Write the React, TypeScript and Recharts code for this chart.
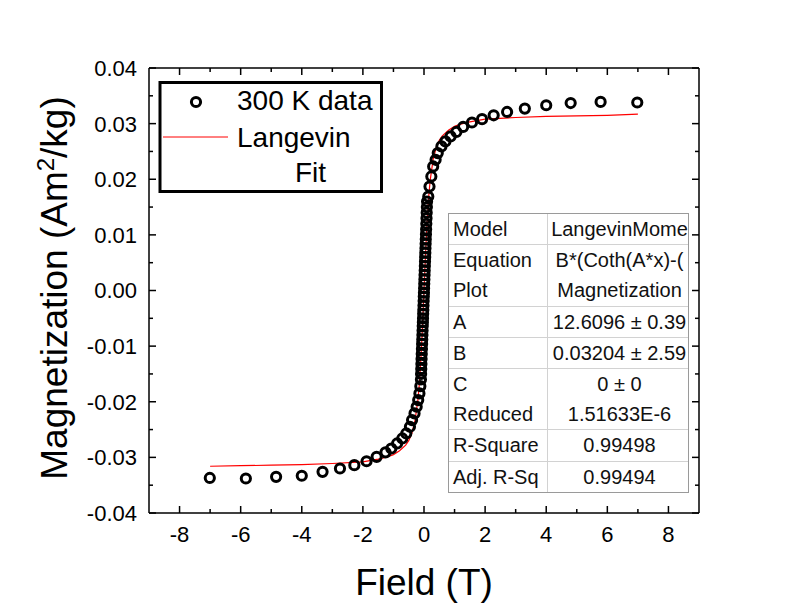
import { ComposedChart, Scatter, Line, XAxis, YAxis, Label } from 'recharts';

const FIELD_T = [
  -7.01, -5.83, -4.84, -4.0, -3.32, -2.75, -2.28, -1.88, -1.55, -1.26, -1.07, -0.88, -0.71,
  -0.58, -0.46, -0.39, -0.31, -0.24, -0.19, -0.15, -0.12,
  -0.1, -0.095, -0.09, -0.085, -0.08, -0.074, -0.068, -0.062, -0.057, -0.052, -0.047, -0.042,
  -0.037, -0.032, -0.027, -0.022, -0.017, -0.012, -0.007, -0.002, 0.003, 0.008, 0.013, 0.018,
  0.023, 0.028, 0.033, 0.038, 0.043, 0.048, 0.053, 0.058, 0.064, 0.07, 0.076, 0.082, 0.088,
  0.094, 0.1,
  0.14, 0.18, 0.24, 0.3, 0.38, 0.45, 0.57, 0.7, 0.87, 1.06, 1.28, 1.57, 1.9, 2.28, 2.72, 3.3,
  4.0, 4.8, 5.78, 6.98,
];
const MAG = [
  -0.0337, -0.0338, -0.0335, -0.0333, -0.0326, -0.032, -0.0314, -0.0307, -0.0299, -0.0291,
  -0.0284, -0.0275, -0.0266, -0.0257, -0.0245, -0.0233, -0.0221, -0.0209, -0.0197, -0.0185,
  -0.0172,
  -0.016, -0.015, -0.0141, -0.0132, -0.0123, -0.0114, -0.0105, -0.0096, -0.0088, -0.008,
  -0.0072, -0.0064, -0.0057, -0.005, -0.0042, -0.0035, -0.0027, -0.0019, -0.0011, -0.0004,
  0.0004, 0.0012, 0.002, 0.0028, 0.0036, 0.0044, 0.0052, 0.006, 0.0068, 0.0076, 0.0084,
  0.0092, 0.0101, 0.011, 0.012, 0.013, 0.014, 0.015, 0.016,
  0.0169, 0.0187, 0.0205, 0.0223, 0.0235, 0.0247, 0.0259, 0.0268, 0.0277, 0.0285, 0.0294,
  0.0302, 0.0308, 0.0315, 0.0321, 0.0327, 0.0333, 0.0337, 0.0339, 0.0338,
];

// Langevin fit curve
const FIT_FIELD = [
  -7, -6, -5, -4, -3, -2, -1.5, -1.2, -1, -0.8, -0.6, -0.5, -0.4, -0.3, -0.2, -0.15, -0.1, -0.05,
  0, 0.05, 0.1, 0.15, 0.2, 0.3, 0.4, 0.5, 0.6, 0.8, 1, 1.2, 1.5, 2, 3, 4, 5, 6, 7,
];
const FIT_MAG = [
  -0.0316, -0.0315, -0.0314, -0.0313, -0.0311, -0.0308, -0.0303, -0.0299, -0.0295, -0.0288,
  -0.0278, -0.027, -0.0257, -0.0236, -0.0197, -0.0166, -0.0122, -0.0065,
  0, 0.0065, 0.0122, 0.0166, 0.0197, 0.0236, 0.0257, 0.027, 0.0278, 0.0288, 0.0295, 0.0299,
  0.0303, 0.0308, 0.0311, 0.0313, 0.0314, 0.0315, 0.0317,
];

const X_TICKS = [-8, -7, -6, -5, -4, -3, -2, -1, 0, 1, 2, 3, 4, 5, 6, 7, 8];
const Y_TICKS = [
  -0.04, -0.035, -0.03, -0.025, -0.02, -0.015, -0.01, -0.005, 0, 0.005, 0.01, 0.015, 0.02,
  0.025, 0.03, 0.035, 0.04,
];

const FIT_ROWS = [
  [['Model', 'LangevinMome']],
  [['Equation', 'B*(Coth(A*x)-('], ['Plot', 'Magnetization']],
  [['A', '12.6096 ± 0.39']],
  [['B', '0.03204 ± 2.59']],
  [['C', '0 ± 0'], ['Reduced', '1.51633E-6']],
  [['R-Square', '0.99498']],
  [['Adj. R-Sq', '0.99494']],
];

const points = FIELD_T.map((x, i) => ({ x, y: MAG[i] }));
const fit = FIT_FIELD.map((x, i) => ({ x, y: FIT_MAG[i] }));

const FONT = '"Liberation Sans", Arial, sans-serif';

const isMajorX = (v: number) => Math.abs(v) % 2 === 0;
const isMajorY = (v: number) => Math.abs(Math.round(v * 200)) % 2 === 0;

const BottomTick = ({ x, y, payload }: any) => {
  const major = isMajorX(payload.value);
  return (
    <g>
      <line x1={x} x2={x} y1={y} y2={y - (major ? 7 : 4)} stroke="#000" strokeWidth={1.5} />
      {major && (
        <text x={x} y={y + 29} textAnchor="middle" fontSize={22} fontFamily={FONT} fill="#000">
          {payload.value}
        </text>
      )}
    </g>
  );
};

const TopTick = ({ x, y, payload }: any) => {
  const major = isMajorX(payload.value);
  return <line x1={x} x2={x} y1={y} y2={y + (major ? 7 : 4)} stroke="#000" strokeWidth={1.5} />;
};

const LeftTick = ({ x, y, payload }: any) => {
  const major = isMajorY(payload.value);
  return (
    <g>
      <line x1={x} x2={x + (major ? 7 : 4)} y1={y} y2={y} stroke="#000" strokeWidth={1.5} />
      {major && (
        <text x={x - 12} y={y} dy="0.36em" textAnchor="end" fontSize={22} fontFamily={FONT} fill="#000">
          {payload.value.toFixed(2)}
        </text>
      )}
    </g>
  );
};

const RightTick = ({ x, y, payload }: any) => {
  const major = isMajorY(payload.value);
  return <line x1={x} x2={x - (major ? 7 : 4)} y1={y} y2={y} stroke="#000" strokeWidth={1.5} />;
};

const YTitle = () => (
  <text
    x={67}
    y={288}
    transform="rotate(-90, 67, 288)"
    textAnchor="middle"
    fontSize={37}
    fontFamily={FONT}
    fill="#000"
  >
    Magnetization (Am
    <tspan dy={-13} fontSize={24}>2</tspan>
    <tspan dy={13}>/kg)</tspan>
  </text>
);

const Ring = (p: any) => (
  <circle cx={p.cx} cy={p.cy} r={4.6} fill="none" stroke="#000" strokeWidth={3} />
);

function FitTable() {
  return (
    <div
      style={{
        position: 'absolute',
        left: 448,
        top: 213,
        width: 241,
        height: 280,
        boxSizing: 'border-box',
        border: '1px solid #9a9a9a',
        background: '#fff',
        fontFamily: FONT,
        fontSize: 20,
        color: '#111',
      }}
    >
      {FIT_ROWS.map((group, gi) => (
        <div
          key={gi}
          style={{
            display: 'flex',
            borderBottom: gi < FIT_ROWS.length - 1 ? '1px solid #d2d2d2' : 'none',
          }}
        >
          <div style={{ width: 98, borderRight: '1px solid #d2d2d2', overflow: 'hidden' }}>
            {group.map((r, ri) => (
              <div key={ri} style={{ height: 30.2, lineHeight: '30.2px', paddingLeft: 4, whiteSpace: 'nowrap' }}>
                {r[0]}
              </div>
            ))}
          </div>
          <div style={{ flex: 1, overflow: 'hidden' }}>
            {group.map((r, ri) => (
              <div
                key={ri}
                style={{
                  height: 30.2,
                  lineHeight: '30.2px',
                  textAlign: 'center',
                  whiteSpace: 'nowrap',
                  overflow: 'hidden',
                  paddingLeft: 3,
                }}
              >
                {r[1]}
              </div>
            ))}
          </div>
        </div>
      ))}
    </div>
  );
}

function LegendBox() {
  return (
    <svg
      width={799}
      height={613}
      style={{ position: 'absolute', left: 0, top: 0, pointerEvents: 'none' }}
    >
      <rect x={160} y={82.5} width={221.5} height={109} fill="#fff" stroke="#000" strokeWidth={3} />
      <circle cx={196} cy={102} r={4.6} fill="none" stroke="#000" strokeWidth={3} />
      <text x={237} y={110} fontSize={28} fontFamily={FONT} fill="#000">300 K data</text>
      <line x1={163} x2={228} y1={137} y2={137} stroke="#ff0000" strokeWidth={1} />
      <text x={237} y={147} fontSize={28} fontFamily={FONT} fill="#000">Langevin</text>
      <text x={295} y={182} fontSize={28} fontFamily={FONT} fill="#000">Fit</text>
    </svg>
  );
}

export default function App() {
  return (
    <div style={{ position: 'absolute', left: 0, top: 0, width: 799, height: 613, background: '#fff' }}>
      <ComposedChart width={799} height={613} margin={{ top: 67, right: 99, bottom: 0, left: 0 }}>
        <XAxis
          type="number"
          dataKey="x"
          domain={[-9, 9]}
          allowDataOverflow
          ticks={X_TICKS}
          interval={0}
          height={100}
          tickSize={0}
          tickMargin={0}
          tickLine={false}
          tick={<BottomTick />}
          axisLine={{ stroke: '#000', strokeWidth: 1.5 }}
        >
          <Label value="Field (T)" position="insideBottom" offset={18} fontSize={37} fontFamily={FONT} fill="#000" />
        </XAxis>
        <XAxis
          xAxisId="top"
          orientation="top"
          type="number"
          dataKey="x"
          domain={[-9, 9]}
          allowDataOverflow
          ticks={X_TICKS}
          interval={0}
          height={1}
          tickSize={0}
          tickMargin={0}
          tickLine={false}
          tick={<TopTick />}
          axisLine={{ stroke: '#000', strokeWidth: 1.5 }}
        />
        <YAxis
          type="number"
          dataKey="y"
          domain={[-0.04, 0.04]}
          allowDataOverflow
          ticks={Y_TICKS}
          interval={0}
          width={149}
          tickSize={0}
          tickMargin={0}
          tickLine={false}
          tick={<LeftTick />}
          axisLine={{ stroke: '#000', strokeWidth: 1.5 }}
        >
          <Label content={<YTitle />} />
        </YAxis>
        <YAxis
          yAxisId="right"
          orientation="right"
          type="number"
          dataKey="y"
          domain={[-0.04, 0.04]}
          allowDataOverflow
          ticks={Y_TICKS}
          interval={0}
          width={1}
          tickSize={0}
          tickMargin={0}
          tickLine={false}
          tick={<RightTick />}
          axisLine={{ stroke: '#000', strokeWidth: 1.5 }}
        />
        <Scatter data={points} dataKey="y" shape={Ring} isAnimationActive={false} />
        <Line
          data={fit}
          dataKey="y"
          xAxisId="top"
          yAxisId="right"
          type="linear"
          stroke="#ff0000"
          strokeWidth={1.2}
          dot={false}
          activeDot={false}
          isAnimationActive={false}
        />
      </ComposedChart>
      <LegendBox />
      <FitTable />
    </div>
  );
}
